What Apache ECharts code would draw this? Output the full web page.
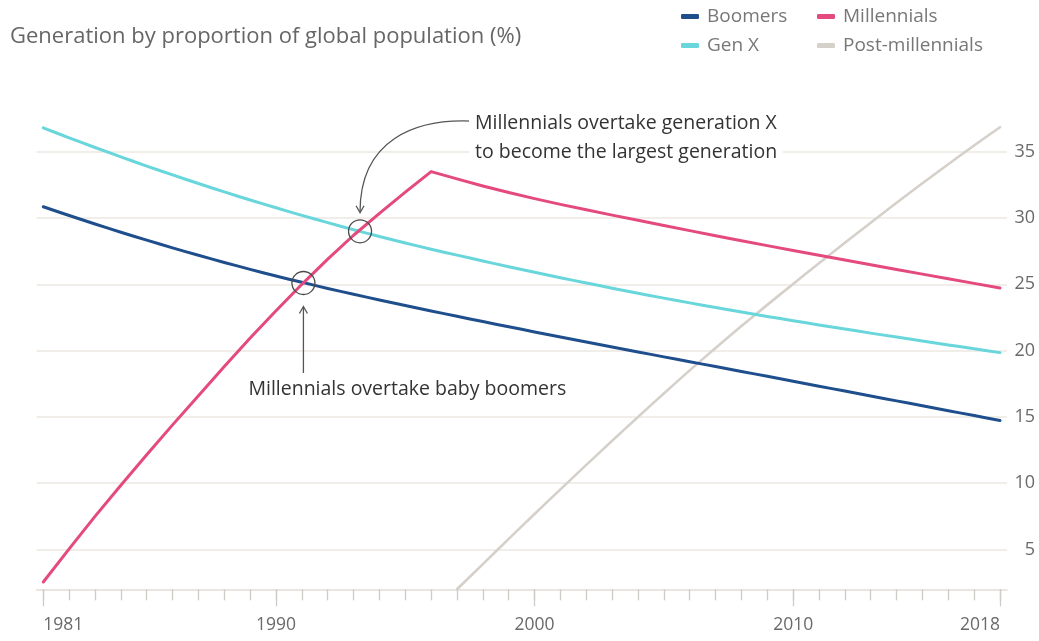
<!DOCTYPE html>
<html>
<head>
<meta charset="utf-8">
<script src="https://cdn.jsdelivr.net/npm/echarts@6/dist/echarts.min.js"></script>
<style>
  html, body { margin: 0; padding: 0; background: #fff; }
  #chart { width: 1039px; height: 641px; }
</style>
</head>
<body>
<div id="chart"></div>
<script>
// Share of global population by generation (%), one value per year
const years = [1981, 1982, 1983, 1984, 1985, 1986, 1987, 1988, 1989, 1990,
               1991, 1992, 1993, 1994, 1995, 1996, 1997, 1998, 1999, 2000,
               2001, 2002, 2003, 2004, 2005, 2006, 2007, 2008, 2009, 2010,
               2011, 2012, 2013, 2014, 2015, 2016, 2017, 2018];
const boomers = [30.85, 30.19, 29.55, 28.93, 28.33, 27.75, 27.19, 26.65, 26.13, 25.63,
                 25.15, 24.69, 24.25, 23.82, 23.40, 22.99, 22.59, 22.19, 21.80, 21.41,
                 21.03, 20.65, 20.27, 19.90, 19.53, 19.16, 18.80, 18.43, 18.06, 17.69,
                 17.32, 16.95, 16.58, 16.21, 15.84, 15.47, 15.10, 14.73];
const genX = [36.80, 36.05, 35.32, 34.61, 33.92, 33.25, 32.60, 31.97, 31.36, 30.77,
              30.20, 29.65, 29.12, 28.61, 28.12, 27.65, 27.20, 26.76, 26.33, 25.91,
              25.50, 25.10, 24.71, 24.33, 23.96, 23.60, 23.25, 22.91, 22.58, 22.26,
              21.94, 21.63, 21.32, 21.02, 20.72, 20.43, 20.14, 19.85];
const millennials = [2.55, 5.05, 7.50, 9.85, 12.15, 14.40, 16.60, 18.80, 20.95, 23.00,
                     25.00, 26.90, 28.70, 30.35, 31.95, 33.50, 32.95, 32.42, 31.92, 31.46,
                     31.03, 30.62, 30.22, 29.83, 29.44, 29.05, 28.67, 28.29, 27.92, 27.55,
                     27.19, 26.83, 26.47, 26.12, 25.77, 25.42, 25.07, 24.72];
const postMillennialYears = [1997, 1998, 1999, 2000, 2001, 2002, 2003, 2004, 2005, 2006, 2007,
                             2008, 2009, 2010, 2011, 2012, 2013, 2014, 2015, 2016, 2017, 2018];
const postMillennials = [2.00, 3.90, 5.80, 7.68, 9.54, 11.38, 13.20, 15.00, 16.77, 18.51, 20.20,
                         21.85, 23.45, 25.03, 26.59, 28.13, 29.65, 31.15, 32.62, 34.06, 35.47, 36.85];

// Axis ticks and labels
const xLabelYears = [1981, 1990, 2000, 2010, 2018];
const yTickValues = [5, 10, 15, 20, 25, 30, 35];

// Crossing points that get circled
const crossBoomers = [1991.06, 25.1];
const crossGenX = [1993.25, 29.0];

const FONT = '"Open Sans", Lato, sans-serif';
const COLORS = {
  boomers: '#1f4e8d',
  genX: '#68d6da',
  millennials: '#e44a7d',
  post: '#d6d0ca'
};

function pairs(xs, ys) {
  return xs.map((x, i) => [x, ys[i]]);
}

const chart = echarts.init(document.getElementById('chart'), null, { renderer: 'canvas' });

const X_MIN = 1981, X_MAX = 2018, Y_MIN = 2, Y_MAX = 37;
const plotBox = { left: 43.3, right: 39, top: 125.2, bottom: 51.7 };
const frameBox = { left: 36.7, right: 32, top: 125.2, bottom: 51.7 };

function lineSeries(name, xs, ys, color, width, smooth) {
  return {
    name: name,
    type: 'line',
    xAxisIndex: 0,
    yAxisIndex: 0,
    data: pairs(xs, ys),
    smooth: smooth,
    showSymbol: false,
    symbol: 'none',
    lineStyle: { color: color, width: width, cap: 'round', join: 'round' },
    itemStyle: { color: color },
    emphasis: { disabled: true }
  };
}

const legendCommon = {
  orient: 'vertical',
  itemWidth: 18,
  itemHeight: 5,
  itemGap: 10,
  icon: 'roundRect',
  selectedMode: false,
  textStyle: { fontFamily: FONT, fontSize: 19, color: '#777', padding: [0, 0, 0, 3] }
};

const series = [
  lineSeries('Post-millennials', postMillennialYears, postMillennials, COLORS.post, 2.6, 0.3),
  lineSeries('Boomers', years, boomers, COLORS.boomers, 3, 0.3),
  lineSeries('Gen X', years, genX, COLORS.genX, 3, 0.3),
  lineSeries('Millennials', years, millennials, COLORS.millennials, 3, false)
];
series[3].markPoint = {
  symbol: 'circle',
  symbolSize: 23,
  silent: true,
  label: { show: false },
  itemStyle: { color: 'rgba(0,0,0,0)', borderColor: '#4a4a4a', borderWidth: 1.3 },
  data: [{ coord: crossBoomers }, { coord: crossGenX }]
};

chart.setOption({
  animation: false,
  backgroundColor: '#fff',
  title: {
    text: 'Generation by proportion of global population (%)',
    left: 5,
    top: 21,
    textStyle: { fontFamily: FONT, fontSize: 22, fontWeight: 'normal', color: '#666' }
  },
  legend: [
    Object.assign({}, legendCommon, { left: 676, top: 2, data: ['Boomers', 'Gen X'] }),
    Object.assign({}, legendCommon, { left: 812, top: 2, data: ['Millennials', 'Post-millennials'] })
  ],
  grid: [
    Object.assign({}, plotBox),
    Object.assign({}, frameBox)
  ],
  xAxis: [
    {
      type: 'value', gridIndex: 0, min: X_MIN, max: X_MAX, interval: 1,
      axisLine: { show: false },
      axisTick: { show: true, length: 11, lineStyle: { color: '#cfcbc7', width: 1.3 } },
      axisLabel: {
        customValues: xLabelYears,
        margin: 27,
        alignMinLabel: 'left',
        alignMaxLabel: 'right',
        fontFamily: FONT, fontSize: 17.5, color: '#6a6a6a',
        formatter: (v) => String(v)
      },
      splitLine: { show: false }
    },
    {
      type: 'value', gridIndex: 0, min: X_MIN, max: X_MAX, position: 'bottom', offset: 0,
      axisLine: { show: false },
      axisTick: { show: true, length: 17, customValues: xLabelYears, lineStyle: { color: '#cfcbc7', width: 1.3 } },
      axisLabel: { show: false },
      splitLine: { show: false }
    },
    {
      type: 'value', gridIndex: 1, min: 0, max: 1,
      axisLine: { show: true, lineStyle: { color: '#e2ded9', width: 1.5 } },
      axisTick: { show: false },
      axisLabel: { show: false },
      splitLine: { show: false }
    }
  ],
  yAxis: [
    {
      type: 'value', gridIndex: 0, min: Y_MIN, max: Y_MAX,
      axisLine: { show: false }, axisTick: { show: false },
      axisLabel: { show: false }, splitLine: { show: false }
    },
    {
      type: 'value', gridIndex: 1, min: Y_MIN, max: Y_MAX, position: 'right',
      axisLine: { show: false },
      axisTick: { show: false, customValues: yTickValues },
      axisLabel: {
        customValues: yTickValues,
        align: 'right',
        margin: 28,
        fontFamily: FONT, fontSize: 18, color: '#6a6a6a'
      },
      splitLine: { show: true, lineStyle: { color: '#ece8e3', width: 1.5 } }
    }
  ],
  series: series
});

// Arrows and notes anchored to the circled crossings
function drawNotes() {
  const p1 = chart.convertToPixel({ gridIndex: 0 }, crossBoomers);
  const p2 = chart.convertToPixel({ gridIndex: 0 }, crossGenX);
  const ink = '#555';
  const noteStyle = { fontFamily: FONT, fontSize: 19.5, fill: '#333' };
  chart.setOption({
    graphic: [
      {
        type: 'line', silent: true, z: 100,
        shape: { x1: p1[0], y1: p1[1] + 90, x2: p1[0], y2: p1[1] + 24 },
        style: { stroke: ink, lineWidth: 1.3 }
      },
      {
        type: 'polyline', silent: true, z: 100,
        shape: { points: [[p1[0] - 4, p1[1] + 30.5], [p1[0], p1[1] + 23.5], [p1[0] + 4, p1[1] + 30.5]] },
        style: { stroke: ink, lineWidth: 1.3, fill: null }
      },
      {
        type: 'text', silent: true, z: 100,
        x: p1[0] - 55, y: p1[1] + 106,
        style: Object.assign({ text: 'Millennials overtake baby boomers', verticalAlign: 'middle' }, noteStyle)
      },
      {
        type: 'bezierCurve', silent: true, z: 100,
        shape: {
          x1: p2[0] + 112, y1: p2[1] - 110.2,
          cpx1: p2[0] + 55, cpy1: p2[1] - 112.7,
          cpx2: p2[0], cpy2: p2[1] - 91.7,
          x2: p2[0], y2: p2[1] - 19.5
        },
        style: { stroke: ink, lineWidth: 1.3, fill: null }
      },
      {
        type: 'polyline', silent: true, z: 100,
        shape: { points: [[p2[0] - 4, p2[1] - 25.5], [p2[0], p2[1] - 18.5], [p2[0] + 4, p2[1] - 25.5]] },
        style: { stroke: ink, lineWidth: 1.3, fill: null }
      },
      {
        type: 'text', silent: true, z: 100,
        x: p2[0] + 109, y: p2[1] - 122,
        style: Object.assign({
          text: 'Millennials overtake generation X\nto become the largest generation',
          lineHeight: 29,
          backgroundColor: '#fff',
          padding: [0, 6, 0, 6]
        }, noteStyle)
      }
    ]
  });
}
drawNotes();
</script>
</body>
</html>
